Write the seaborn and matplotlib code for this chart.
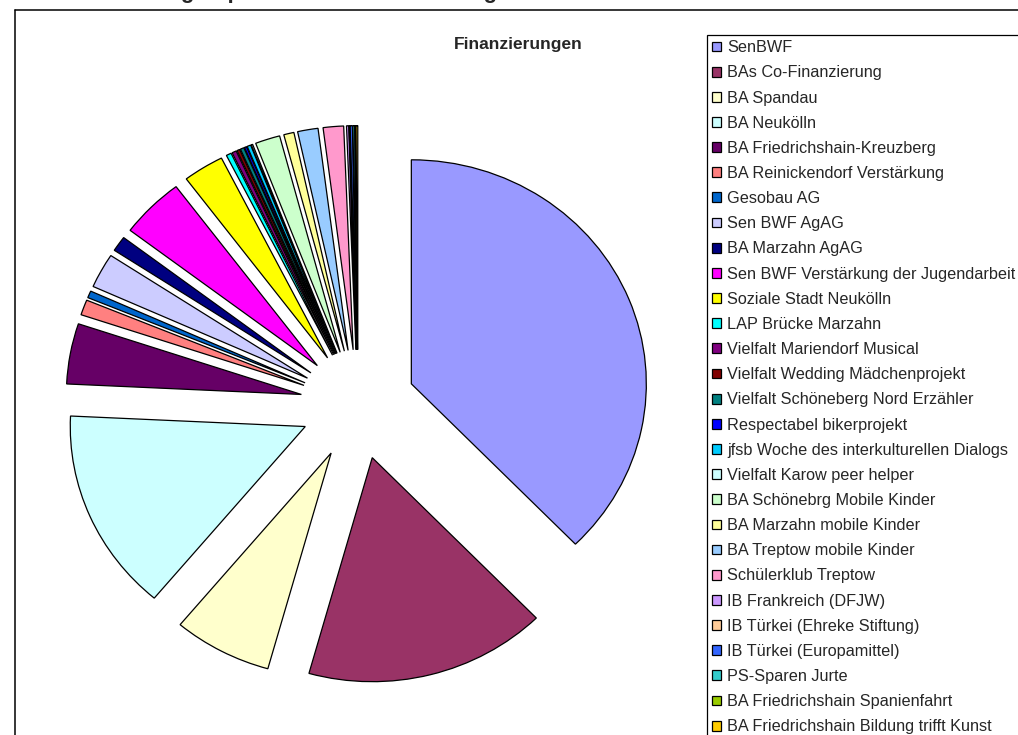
import matplotlib
matplotlib.use("Agg")
import matplotlib.pyplot as plt
from matplotlib.lines import Line2D
import seaborn as sns

sns.set_style("white")
plt.rcParams['font.family'] = ['Liberation Sans', 'DejaVu Sans']

# Finanzierungsquellen (Anteile in %, aus dem Bild geschaetzt)
quellen = [
    "SenBWF", "BAs Co-Finanzierung", "BA Spandau", "BA Neukölln",
    "BA Friedrichshain-Kreuzberg", "BA Reinickendorf Verstärkung", "Gesobau AG",
    "Sen BWF AgAG", "BA Marzahn AgAG", "Sen BWF Verstärkung der Jugendarbeit",
    "Soziale Stadt Neukölln", "LAP Brücke Marzahn", "Vielfalt Mariendorf Musical",
    "Vielfalt Wedding Mädchenprojekt", "Vielfalt Schöneberg Nord Erzähler",
    "Respectabel bikerprojekt", "jfsb Woche des interkulturellen Dialogs",
    "Vielfalt Karow peer helper", "BA Schönebrg Mobile Kinder",
    "BA Marzahn mobile Kinder", "BA Treptow mobile Kinder", "Schülerklub Treptow",
    "IB Frankreich (DFJW)", "IB Türkei (Ehreke Stiftung)", "IB Türkei (Europamittel)",
    "PS-Sparen Jurte", "BA Friedrichshain Spanienfahrt",
    "BA Friedrichshain Bildung trifft Kunst",
]
anteile = [
    37.6, 16.6, 6.75, 14.6,
    4.35, 1.1, 0.5,
    2.5, 1.1, 4.4,
    2.8, 0.35, 0.3,
    0.2, 0.25,
    0.15, 0.25,
    0.1, 1.7,
    0.7, 1.4, 1.4,
    0.15, 0.05, 0.15,
    0.12, 0.05,
    0.12,
]
farben = [
    "#9999FF", "#993366", "#FFFFCC", "#CCFFFF", "#660066", "#FF8080", "#0066CC",
    "#CCCCFF", "#000080", "#FF00FF", "#FFFF00", "#00FFFF", "#800080", "#800000",
    "#008080", "#0000FF", "#00CCFF", "#CCFFFF", "#CCFFCC", "#FFFF99", "#99CCFF",
    "#FF99CC", "#CC99FF", "#FFCC99", "#3366FF", "#33CCCC", "#99CC00", "#FFCC00",
]
pal = sns.color_palette(farben)

W, H = 1018, 735
fig = plt.figure(figsize=(W / 100, H / 100), dpi=100)
ax = fig.add_axes([0, 0, 1, 1])

wedges, _ = ax.pie(anteile, colors=pal, startangle=90, counterclock=False,
                   explode=[0.245] * len(anteile), radius=1,
                   wedgeprops=dict(edgecolor="black", linewidth=0.9))

# pie centre and (slightly elliptic) radii in pixels
cx, cy, rx, ry = 358, 404.5, 235, 224
ax.set_aspect("auto")
ax.set_xlim(-cx / rx, (W - cx) / rx)
ax.set_ylim(-(H - cy) / ry, cy / ry)
ax.axis("off")

# plot area border (clipped at right/bottom)
fig.add_artist(Line2D([15 / W, 15 / W], [1 - 10 / H, -0.1], color="black", lw=1.1))
fig.add_artist(Line2D([15 / W, 1.1], [1 - 10 / H, 1 - 10 / H], color="black", lw=1.1))

# cropped heading line at the very top
fig.text(64 / W, 1 + 2 / H, "Entwicklung / Spenden und Finanzierung",
         fontsize=16, fontweight="bold", ha="left", va="baseline")

fig.text(518 / W, 1 - 44 / H, "Finanzierungen", fontsize=12.5,
         fontweight="bold", ha="center", va="center")

leg = ax.legend(wedges, quellen, loc="upper left",
                bbox_to_anchor=(707 / W, 1 - 35 / H), bbox_transform=fig.transFigure,
                fontsize=11.7, frameon=True, fancybox=False, framealpha=1,
                edgecolor="black", borderaxespad=0, handlelength=0.55,
                handleheight=0.55, handletextpad=0.37, labelspacing=0.625,
                borderpad=0.32)
leg.get_frame().set_linewidth(0.9)

fig.savefig("out.png", dpi=100)
